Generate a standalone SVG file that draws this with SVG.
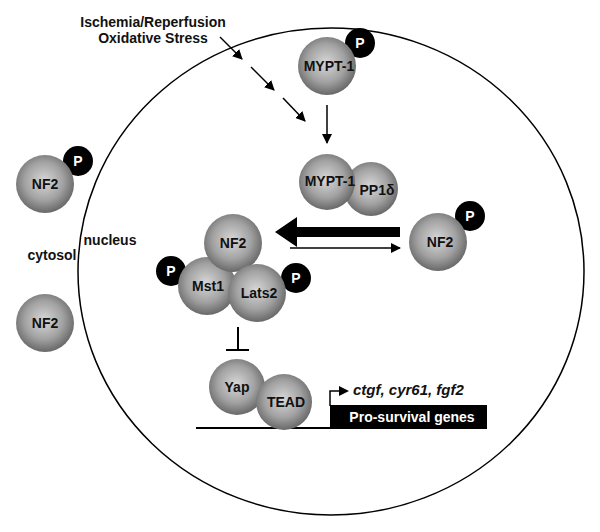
<svg xmlns="http://www.w3.org/2000/svg" width="600" height="532" viewBox="0 0 600 532">
<defs>
<radialGradient id="sph" cx="48%" cy="45%" r="55%">
<stop offset="0" stop-color="#d8d8d8"/>
<stop offset="0.6" stop-color="#a2a2a2"/>
<stop offset="1" stop-color="#686868"/>
</radialGradient>
<marker id="ah" viewBox="0 0 10 10" refX="9" refY="5" markerWidth="10" markerHeight="10" markerUnits="userSpaceOnUse" orient="auto">
<path d="M0,0 L10,5 L0,10 Z" fill="#000"/>
</marker>
</defs>
<style>
.sp{fill:url(#sph)}
.p{fill:#000}
.t{font-family:"Liberation Sans",Arial,sans-serif;font-weight:bold;font-size:14px;fill:#111;text-anchor:middle}
.pt{font-family:"Liberation Sans",Arial,sans-serif;font-weight:bold;font-size:14px;fill:#fff;text-anchor:middle}
.ln{stroke:#000;stroke-width:1.5;fill:none}
</style>
<rect width="600" height="532" fill="#fff"/>
<ellipse cx="331" cy="271.5" rx="253" ry="243.5" fill="none" stroke="#000" stroke-width="1.5"/>

<g id="labels">
<text class="t" x="153" y="27" font-size="15">Ischemia/Reperfusion</text>
<text class="t" x="153" y="43" font-size="15">Oxidative Stress</text>
<text class="t" x="52" y="260">cytosol</text>
<text class="t" x="110" y="245">nucleus</text>
</g>

<g id="connectors">
<line class="ln" x1="220" y1="37" x2="242" y2="59" marker-end="url(#ah)"/>
<line class="ln" x1="251" y1="67" x2="274" y2="90" marker-end="url(#ah)"/>
<line class="ln" x1="283" y1="98" x2="305" y2="121" marker-end="url(#ah)"/>
<line class="ln" x1="327" y1="105" x2="327" y2="143" marker-end="url(#ah)"/>
<path d="M400,227 L297,227 L297,217 L275,232 L297,247 L297,237 L400,237 Z" fill="#000"/>
<line class="ln" x1="290" y1="248" x2="400" y2="248" marker-end="url(#ah)"/>
<line x1="238" y1="327" x2="238" y2="350" stroke="#000" stroke-width="2"/>
<line x1="226" y1="350" x2="249" y2="350" stroke="#000" stroke-width="2"/>
<line x1="196" y1="428" x2="330" y2="428" stroke="#000" stroke-width="2"/>
<path d="M330,406 L330,391 L340,391" stroke="#000" stroke-width="1.5" fill="none"/>
<path d="M339,386 L349,391 L339,396 Z" fill="#000"/>
</g>

<g id="mypt1-top">
<circle class="p" cx="360" cy="43" r="15"/>
<text class="pt" x="360" y="48">P</text>
<circle class="sp" cx="327" cy="66" r="29"/>
<text class="t" x="329" y="71">MYPT-1</text>
</g>

<g id="mypt1-pp1d">
<circle class="sp" cx="371" cy="189" r="27"/>
<text class="t" x="377" y="195">PP1δ</text>
<circle class="sp" cx="327" cy="182" r="28"/>
<text class="t" x="330" y="186">MYPT-1</text>
</g>

<g id="nf2-right">
<circle class="p" cx="470" cy="216" r="15"/>
<text class="pt" x="470" y="221">P</text>
<circle class="sp" cx="438" cy="242" r="29"/>
<text class="t" x="440" y="247">NF2</text>
</g>

<g id="nf2-cyto-p">
<circle class="p" cx="78" cy="161" r="15"/>
<text class="pt" x="78" y="166">P</text>
<circle class="sp" cx="45" cy="184" r="29"/>
<text class="t" x="45" y="189">NF2</text>
</g>

<g id="nf2-cyto">
<circle class="sp" cx="45" cy="323" r="29"/>
<text class="t" x="45" y="328">NF2</text>
</g>

<g id="complex">
<circle class="p" cx="171" cy="271" r="15"/>
<text class="pt" x="171" y="276">P</text>
<circle class="p" cx="296" cy="278" r="15"/>
<text class="pt" x="296" y="283">P</text>
<circle class="sp" cx="207" cy="286" r="29"/>
<circle class="sp" cx="233" cy="243" r="29"/>
<circle class="sp" cx="257" cy="293" r="29"/>
<text class="t" x="233" y="248">NF2</text>
<text class="t" x="208" y="291">Mst1</text>
<text class="t" x="259" y="298">Lats2</text>
</g>

<g id="yap-tead">
<circle class="sp" cx="237" cy="387" r="28"/>
<text class="t" x="237" y="392">Yap</text>
<circle class="sp" cx="284" cy="402" r="28"/>
<text class="t" x="286" y="407">TEAD</text>
</g>

<g id="genes">
<rect x="330" y="405" width="157" height="24" fill="#000"/>
<text class="pt" x="412" y="422">Pro-survival genes</text>
<text x="353" y="395" font-family="Liberation Sans,Arial,sans-serif" font-weight="bold" font-style="italic" font-size="15" fill="#111">ctgf, cyr61, fgf2</text>
</g>
</svg>
